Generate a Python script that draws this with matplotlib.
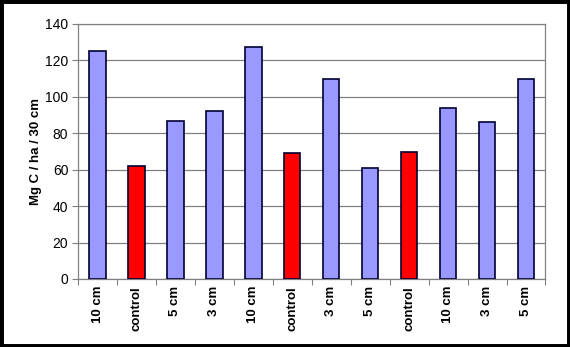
import matplotlib
matplotlib.use("Agg")
import matplotlib.pyplot as plt
import numpy as np

plt.rcParams["font.family"] = ["Liberation Sans", "DejaVu Sans"]

# categories and carbon stock values
labels = ["10 cm", "control", "5 cm", "3 cm", "10 cm", "control",
          "3 cm", "5 cm", "control", "10 cm", "3 cm", "5 cm"]
values = [125, 62, 86.5, 92, 127.5, 69, 110, 61, 69.5, 94, 86, 110]
y_ticks = [0, 20, 40, 60, 80, 100, 120, 140]

blue = "#9999ff"
red = "#ff0000"
colors = [red if lab == "control" else blue for lab in labels]

fig = plt.figure(figsize=(5.7, 3.47), dpi=100)
ax = fig.add_axes([0.137, 0.196, 0.82, 0.735])

x = np.arange(len(labels))
ax.bar(x, values, width=0.42, color=colors, edgecolor="#000033", linewidth=1.2, zorder=3)

ax.set_xlim(-0.5, len(labels) - 0.5)
ax.set_ylim(0, 140)
ax.set_yticks(y_ticks)
ax.set_yticklabels([str(t) for t in y_ticks], fontsize=10)
ax.yaxis.grid(True, color="#808080", linewidth=0.9, zorder=0)

# category ticks sit between bars, labels under bars
ax.set_xticks(np.arange(-0.5, len(labels), 1.0))
ax.set_xticklabels([])
ax.set_xticks(x, minor=True)
ax.set_xticklabels(labels, minor=True, rotation=90, fontsize=9.5, fontweight="bold")
ax.tick_params(axis="x", which="minor", length=0, pad=5)
ax.tick_params(axis="x", which="major", length=4, color="#808080")
ax.tick_params(axis="y", length=4, color="#808080", pad=3)

for side in ["left", "bottom", "right", "top"]:
    ax.spines[side].set_color("#808080")
    ax.spines[side].set_linewidth(0.9)

ax.set_ylabel("Mg C / ha / 30 cm", fontsize=9.5, fontweight="bold", labelpad=2)

# black frame round the whole picture
fig.patches.append(plt.Rectangle((0, 0), 1, 1, transform=fig.transFigure,
                                 fill=False, edgecolor="black", linewidth=5))

fig.savefig("out.png", dpi=100)
